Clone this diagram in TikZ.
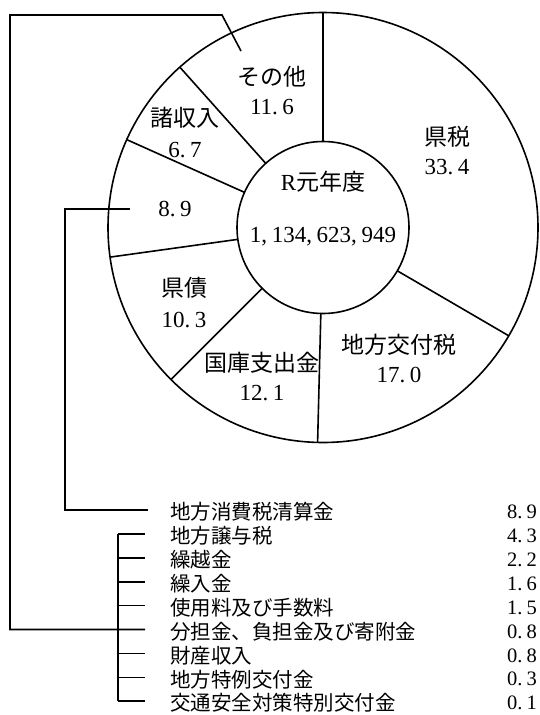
\documentclass[tikz,border=0pt]{standalone}
\usepackage{fontspec}
\setmainfont{Liberation Serif}
\newfontfamily\cjk{Noto Sans CJK JP}
\usetikzlibrary{calc}
\newcommand\mydotsp{\hspace{0.2em}}
\tikzset{
  pl/.style={font=\fontsize{23}{28}\selectfont\cjk, inner sep=0pt},
  pn/.style={font=\fontsize{23}{28}\selectfont, inner sep=0pt},
  ll/.style={font=\fontsize{20.5}{24}\selectfont\cjk, inner sep=0pt, anchor=west},
  lv/.style={font=\fontsize{20.5}{24}\selectfont, inner sep=0pt, anchor=east},
  ln/.style={line width=1.6pt}
}
\begin{document}
\begin{tikzpicture}[x=1pt,y=-1pt]
\useasboundingbox (0,0) rectangle (539,715);
\coordinate (O) at (323,227.5);
% pie
\draw[ln] (O) circle[radius=215pt];
\draw[ln] (O) circle[radius=86pt];
\foreach \a in {-90,30.24,91.44,135,172.08,204.12,228.24}
  \draw[ln] ($(O)+(\a:86)$) -- ($(O)+(\a:215)$);
% centre
\node[pn] (c1) at (323,182) {R{\cjk 元年度}};
\node[pn] (c2) at (323,237) {1,\mydotsp134,\mydotsp623,\mydotsp949};
% slice labels
\node[pl] (n1) at (272,77) {その他};
\node[pn] (v1) at (272,107) {11.\mydotsp6};
\node[pl] (n2) at (447,137) {県税};
\node[pn] (v2) at (447,167) {33.\mydotsp4};
\node[pl] (n3) at (399,345) {地方交付税};
\node[pn] (v3) at (399,375) {17.\mydotsp0};
\node[pl] (n4) at (262,363) {国庫支出金};
\node[pn] (v4) at (262,393) {12.\mydotsp1};
\node[pl] (n5) at (184,288) {県債};
\node[pn] (v5) at (184,320) {10.\mydotsp3};
\node[pl] (n6) at (185,118) {諸収入};
\node[pn] (v6) at (185,150) {6.\mydotsp7};
\node[pn] (v7) at (175,209) {8.\mydotsp9};
% list
\foreach \lab/\val [count=\k from 0] in {
  地方消費税清算金/8.\mydotsp9,
  地方譲与税/4.\mydotsp3,
  繰越金/2.\mydotsp2,
  繰入金/1.\mydotsp6,
  使用料及び手数料/1.\mydotsp5,
  分担金、負担金及び寄附金/0.\mydotsp8,
  財産収入/0.\mydotsp8,
  地方特例交付金/0.\mydotsp3,
  交通安全対策特別交付金/0.\mydotsp1}{
  \pgfmathsetmacro\yy{510+23.9*\k}
  \coordinate (t\k) at (145,\yy);
  \coordinate (b\k) at (118,\yy);
  \node[ll] (l\k) at (170,\yy+2) {\lab};
  \node[lv] (r\k) at (537,\yy+2) {\val};
}
% bracket
\draw[ln] (b1) -- (b8);
\foreach \k in {1,...,8} \draw[ln] (b\k) -- (t\k);
% leader from その他 slice
\coordinate (a0) at (241,51);
\coordinate (a1) at (222,15);
\coordinate (a2) at (10,15);
\coordinate (a3) at (10,629.5);
\draw[ln] (a0) -- (a1) -- (a2) -- (a3) -- (t5);
% leader from 8.9 slice
\coordinate (d0) at (130,209);
\coordinate (d1) at (65,209);
\coordinate (d2) at (65,510);
\coordinate (d3) at (148,510);
\draw[ln] (d0) -- (d1) -- (d2) -- (d3);
\end{tikzpicture}
\end{document}
